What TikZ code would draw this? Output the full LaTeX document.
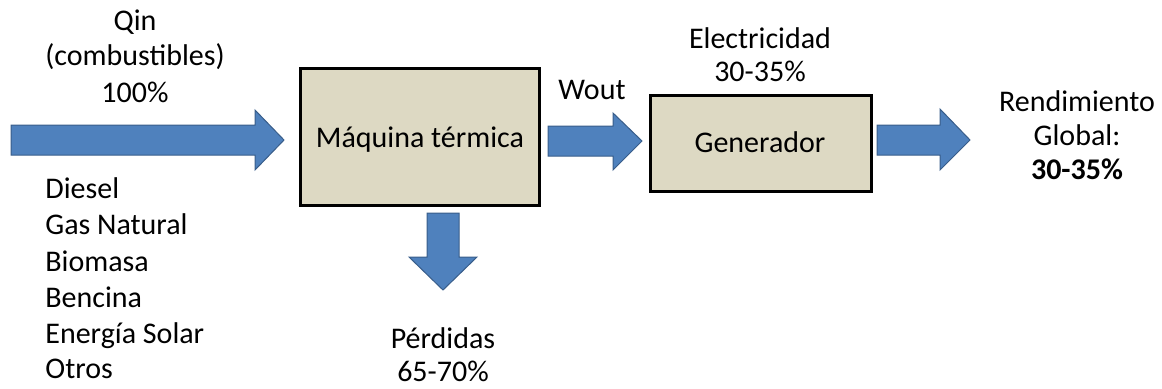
\documentclass[tikz,border=0pt]{standalone}
\usepackage{fontspec}
\setmainfont{Carlito}
\usetikzlibrary{arrows,shapes}

\definecolor{flecha}{RGB}{79,129,189}
\definecolor{flechaborde}{RGB}{56,93,138}
\definecolor{caja}{RGB}{221,217,195}

\tikzset{
  txt/.style={anchor=base,inner sep=0pt,font=\fontsize{15pt}{18pt}\selectfont},
  bloque/.style={fill=caja,draw=black,line width=1.5pt},
  flechaazul/.style={fill=flecha,draw=flechaborde,line width=0.5pt,line join=miter}
}

\begin{document}
\begin{tikzpicture}[x=0.5pt,y=-0.5pt]
\useasboundingbox (0,0) rectangle (1162,388);
\draw[bloque] (300,68) rectangle (539,205);
\draw[bloque] (650,95) rectangle (871,191);
\draw[flechaazul] (11,125)--(255,125)--(255,110)--(284,140)--(255,170)--(255,155)--(11,155)--cycle;
\draw[flechaazul] (548,126)--(613,126)--(613,113)--(642,141)--(613,170)--(613,156)--(548,156)--cycle;
\draw[flechaazul] (877,125)--(940,125)--(940,109)--(970,140)--(940,170)--(940,155)--(877,155)--cycle;
\draw[flechaazul] (427,213)--(459,213)--(459,257)--(477,257)--(443,290)--(409,257)--(427,257)--cycle;
\path
(135,30)node[txt](qin){Qin}
(135,65)node[txt](comb){(combustibles)}
(135,102)node[txt](cien){100\%}
(420,147)node[txt](maquina){Máquina térmica}
(592,99)node[txt](wout){Wout}
(760,48)node[txt](elec){Electricidad}
(760,81)node[txt](elecpct){30-35\%}
(760,152)node[txt](gen){Generador}
(1077,111)node[txt](rend){Rendimiento}
(1077,145)node[txt](global){Global:}
(1077,179)node[txt,font=\fontsize{15pt}{18pt}\selectfont\bfseries](globalpct){30-35\%}
(443,348)node[txt](perd){Pérdidas}
(443,381)node[txt](perdpct){65-70\%}
(45,198)node[txt,anchor=base west](diesel){Diesel}
(45,234)node[txt,anchor=base west](gas){Gas Natural}
(45,271)node[txt,anchor=base west](biomasa){Biomasa}
(45,307)node[txt,anchor=base west](bencina){Bencina}
(45,343)node[txt,anchor=base west](solar){Energía Solar}
(45,378)node[txt,anchor=base west](otros){Otros}
;
\end{tikzpicture}
\end{document}
